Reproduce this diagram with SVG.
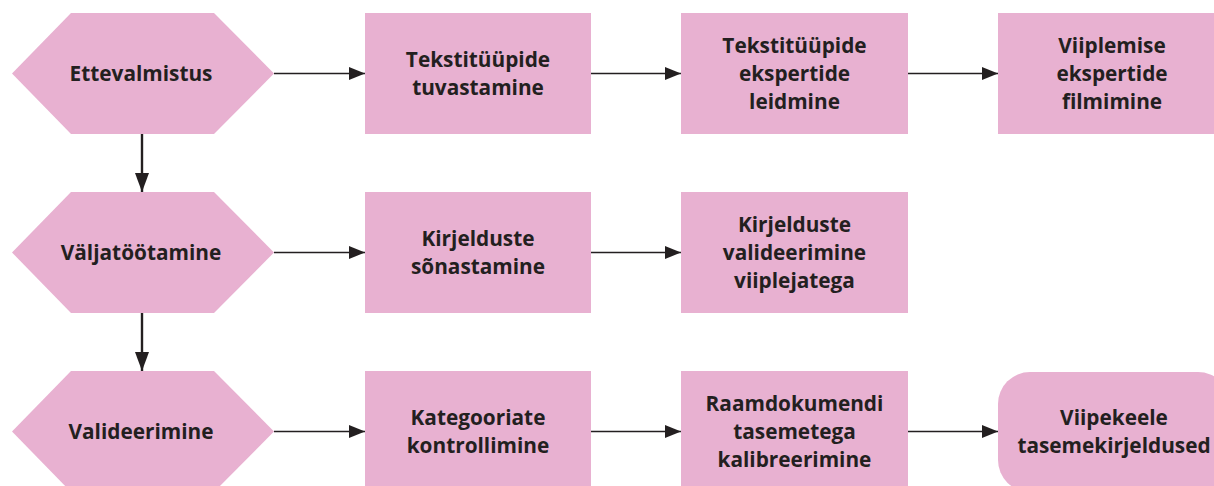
<svg xmlns="http://www.w3.org/2000/svg" width="1214" height="486" viewBox="0 0 1214 486">
<defs>
<style>
.n{fill:#e8b1d1;stroke:none}
.t{font-family:"Open Sans","Liberation Sans",sans-serif;font-weight:700;font-size:20.8px;fill:#231f20;text-anchor:middle}
.h{stroke:#231f20;stroke-width:1.4;fill:none}
.v{stroke:#231f20;stroke-width:2.4;fill:none}
</style>
<marker id="ah" markerUnits="userSpaceOnUse" markerWidth="16" markerHeight="14" refX="16" refY="7" orient="auto">
<path d="M0,0.5 L16,7 L0,13.5 Z" fill="#231f20"/>
</marker>
<marker id="av" markerUnits="userSpaceOnUse" markerWidth="19" markerHeight="14" refX="19" refY="7" orient="auto">
<path d="M0,0 L19,7 L0,14 Z" fill="#231f20"/>
</marker>
</defs>
<rect width="1214" height="486" fill="#ffffff"/>

<g id="connectors">
<line class="h" x1="274" y1="73.5" x2="365" y2="73.5" marker-end="url(#ah)"/>
<line class="h" x1="591" y1="73.5" x2="681" y2="73.5" marker-end="url(#ah)"/>
<line class="h" x1="908" y1="73.5" x2="998" y2="73.5" marker-end="url(#ah)"/>
<line class="h" x1="274" y1="252.5" x2="365" y2="252.5" marker-end="url(#ah)"/>
<line class="h" x1="591" y1="252.5" x2="681" y2="252.5" marker-end="url(#ah)"/>
<line class="h" x1="274" y1="431.5" x2="365" y2="431.5" marker-end="url(#ah)"/>
<line class="h" x1="591" y1="431.5" x2="681" y2="431.5" marker-end="url(#ah)"/>
<line class="h" x1="908" y1="431.5" x2="998" y2="431.5" marker-end="url(#ah)"/>
<line class="v" x1="142" y1="134" x2="142" y2="192" marker-end="url(#av)"/>
<line class="v" x1="142" y1="313" x2="142" y2="371" marker-end="url(#av)"/>
</g>

<g id="n-ettevalmistus">
<polygon class="n" points="12,73.5 71,13 214,13 274,73.5 214,134 71,134"/>
<text class="t" x="141" y="81">Ettevalmistus</text>
</g>
<g id="n-tuvastamine">
<rect class="n" x="365" y="13" width="226" height="121"/>
<text class="t" x="478" y="67">Tekstitüüpide</text>
<text class="t" x="478" y="95">tuvastamine</text>
</g>
<g id="n-leidmine">
<rect class="n" x="681" y="13" width="227" height="121"/>
<text class="t" x="794.5" y="53">Tekstitüüpide</text>
<text class="t" x="794.5" y="81">ekspertide</text>
<text class="t" x="794.5" y="109">leidmine</text>
</g>
<g id="n-filmimine">
<rect class="n" x="998" y="13" width="228" height="121"/>
<text class="t" x="1112" y="53">Viiplemise</text>
<text class="t" x="1112" y="81">ekspertide</text>
<text class="t" x="1112" y="109">filmimine</text>
</g>

<g id="n-valjatootamine">
<polygon class="n" points="12,252.5 71,192 214,192 274,252.5 214,313 71,313"/>
<text class="t" x="141" y="260">Väljatöötamine</text>
</g>
<g id="n-sonastamine">
<rect class="n" x="365" y="192" width="226" height="121"/>
<text class="t" x="478" y="246">Kirjelduste</text>
<text class="t" x="478" y="274">sõnastamine</text>
</g>
<g id="n-valideerimine-viiplejatega">
<rect class="n" x="681" y="192" width="227" height="121"/>
<text class="t" x="794.5" y="232">Kirjelduste</text>
<text class="t" x="794.5" y="260">valideerimine</text>
<text class="t" x="794.5" y="288">viiplejatega</text>
</g>

<g id="n-valideerimine">
<polygon class="n" points="12,431.5 71,371 214,371 274,431.5 214,492 71,492"/>
<text class="t" x="141" y="439">Valideerimine</text>
</g>
<g id="n-kontrollimine">
<rect class="n" x="365" y="371" width="226" height="121"/>
<text class="t" x="478" y="425">Kategooriate</text>
<text class="t" x="478" y="453">kontrollimine</text>
</g>
<g id="n-kalibreerimine">
<rect class="n" x="681" y="371" width="227" height="121"/>
<text class="t" x="794.5" y="411">Raamdokumendi</text>
<text class="t" x="794.5" y="439">tasemetega</text>
<text class="t" x="794.5" y="467">kalibreerimine</text>
</g>
<g id="n-tasemekirjeldused">
<rect class="n" x="998" y="372" width="232" height="120" rx="32" ry="32"/>
<text class="t" x="1114" y="425">Viipekeele</text>
<text class="t" x="1114" y="453">tasemekirjeldused</text>
</g>
</svg>
